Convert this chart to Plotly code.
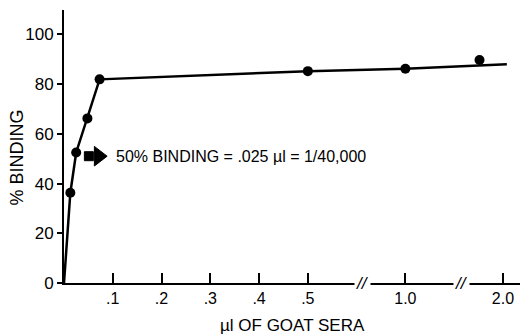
import plotly.graph_objects as go

# Data (real units: µl of goat sera, % binding)
point_x = [0.013, 0.025, 0.048, 0.073, 0.5, 1.0, 1.76]
point_y = [36.3, 52.5, 66.2, 81.9, 85.2, 86.2, 89.7]
line_x = [0.0, 0.013, 0.025, 0.048, 0.073, 0.5, 1.0, 2.04]
line_y = [0.0, 36.3, 52.5, 66.2, 81.9, 85.2, 86.2, 88.0]
tick_vals = [0.1, 0.2, 0.3, 0.4, 0.5, 1.0, 2.0]
tick_text = [".1", ".2", ".3", ".4", ".5", "1.0", "2.0"]
break_vals = [0.78, 1.58]
y_ticks = [0, 20, 40, 60, 80, 100]
half_binding_y = 51


def u(x):
    """Broken-axis transform: linear to 0.5, then compressed segments."""
    if x <= 0.5:
        return x
    if x <= 1.0:
        return 0.5 + (x - 0.5) * 0.4
    return 0.7 + (x - 1.0) * 0.2


FONT = "Liberation Sans, Arial, sans-serif"

fig = go.Figure()
fig.add_trace(go.Scatter(
    x=[u(v) for v in line_x], y=line_y, mode="lines",
    line=dict(color="black", width=2.5), hoverinfo="skip", showlegend=False))
fig.add_trace(go.Scatter(
    x=[u(v) for v in point_x], y=point_y, mode="markers",
    marker=dict(color="black", size=10), showlegend=False))
# block arrow pointing at the label (stem + head)
fig.add_trace(go.Scatter(
    x=[0.051, 0.071], y=[half_binding_y, half_binding_y], mode="markers",
    marker=dict(color="#000000", opacity=1, symbol=["square", "triangle-right"],
                size=[9, 17], line=dict(width=1, color="#000000")),
    hoverinfo="skip", showlegend=False))

fig.update_layout(
    width=520, height=336,
    margin=dict(l=64, r=0, t=10, b=53),
    paper_bgcolor="white", plot_bgcolor="white",
    font=dict(family=FONT, color="black", size=16),
    xaxis=dict(range=[0, 0.935], showgrid=False, zeroline=False, automargin=False,
               showline=True, linecolor="black", linewidth=2,
               ticks="inside", ticklen=10, tickwidth=1.5, tickcolor="black",
               tickvals=[u(v) for v in tick_vals], ticktext=tick_text,
               ticklabelstandoff=0,
               tickfont=dict(size=16, family=FONT)),
    yaxis=dict(range=[0, 109.8], showgrid=False, zeroline=False, automargin=False,
               showline=True, linecolor="black", linewidth=2,
               ticks="outside", ticklen=5, tickwidth=1.5, tickcolor="black",
               tickvals=y_ticks, tickfont=dict(size=17, family=FONT)),
    annotations=[
        dict(text="µl OF GOAT SERA", xref="paper", yref="paper",
             x=0.5, y=-0.155, xanchor="center", yanchor="middle",
             showarrow=False, font=dict(size=17, family=FONT)),
        dict(text="% BINDING", xref="paper", yref="paper",
             x=-0.103, y=0.46, xanchor="center", yanchor="middle", textangle=-90,
             showarrow=False, font=dict(size=18, family=FONT)),
        dict(text="50% BINDING = .025 µl = 1/40,000", xref="x", yref="y",
             x=0.1035, y=half_binding_y, xanchor="left", yanchor="middle",
             showarrow=False, font=dict(size=16, family=FONT)),
    ] + [
        dict(text="<i>//</i>", xref="x", yref="y", x=u(b), y=0, xanchor="center",
             yanchor="middle", showarrow=False, bgcolor="white",
             font=dict(size=17, family=FONT)) for b in break_vals
    ],
)

fig.write_html("out.html",
               config={"displayModeBar": False},
               post_script="document.body.style.margin='0px';"
                           "document.body.style.overflow='hidden';")
